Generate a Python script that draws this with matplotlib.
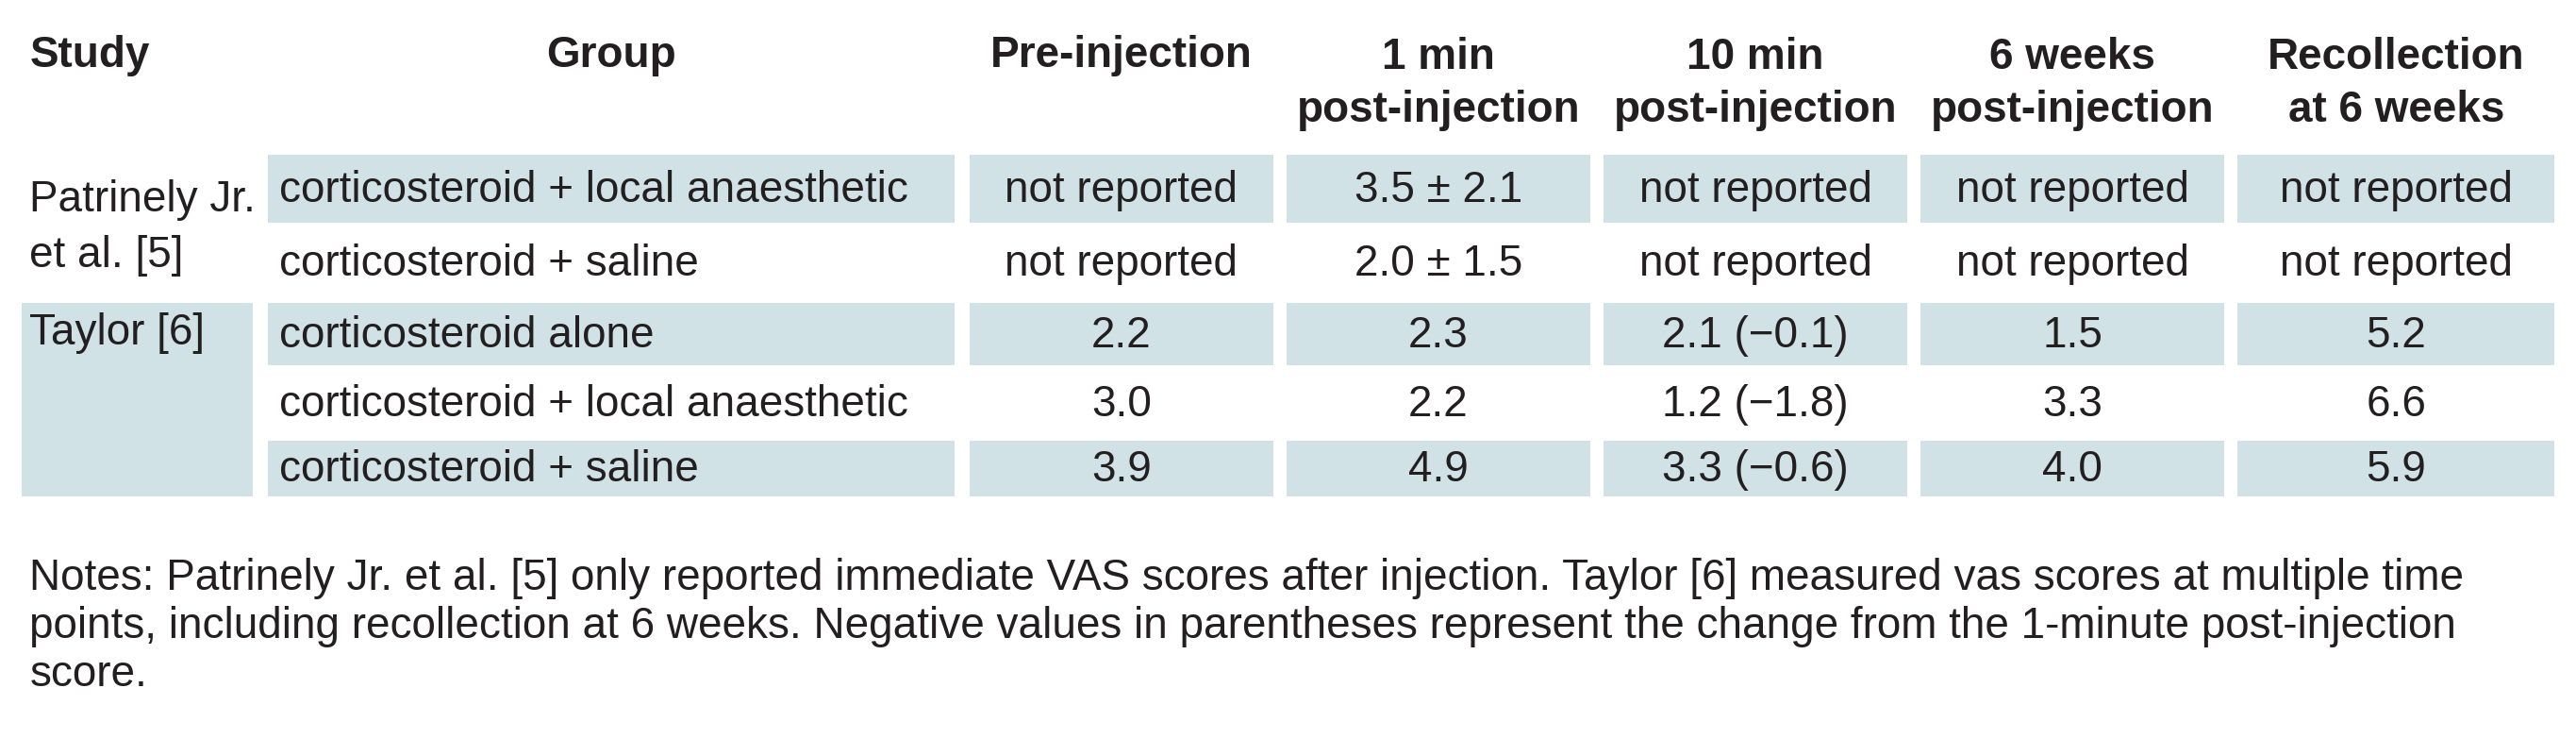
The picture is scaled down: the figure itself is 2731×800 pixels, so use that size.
import matplotlib
matplotlib.use("Agg")
import matplotlib.pyplot as plt
from matplotlib.patches import Rectangle

headers = ["Study", "Group", "Pre-injection", "1 min\npost-injection", "10 min\npost-injection",
           "6 weeks\npost-injection", "Recollection\nat 6 weeks"]
studies = ["Patrinely Jr.\net al. [5]", "Taylor [6]"]
groups = ["corticosteroid + local anaesthetic", "corticosteroid + saline", "corticosteroid alone",
          "corticosteroid + local anaesthetic", "corticosteroid + saline"]
pre = ["not reported", "not reported", "2.2", "3.0", "3.9"]
min1 = ["3.5 ± 2.1", "2.0 ± 1.5", "2.3", "2.2", "4.9"]
min10 = ["not reported", "not reported", "2.1 (−0.1)", "1.2 (−1.8)", "3.3 (−0.6)"]
wk6 = ["not reported", "not reported", "1.5", "3.3", "4.0"]
recol = ["not reported", "not reported", "5.2", "6.6", "5.9"]
notes = ("Notes: Patrinely Jr. et al. [5] only reported immediate VAS scores after injection. Taylor [6] measured vas scores at multiple time\n"
         "points, including recollection at 6 weeks. Negative values in parentheses represent the change from the 1-minute post-injection\n"
         "score.")

FONT = ['Liberation Sans Narrow', 'Liberation Sans', 'DejaVu Sans']
SH = '#d0e2e5'
TXT = '#231f20'
FS = 33

fig = plt.figure(figsize=(27.31, 8), dpi=100)
ax = fig.add_axes([0, 0, 1, 1])
ax.set_xlim(0, 1568); ax.set_ylim(460, 0); ax.axis('off')

cols = [(13, 154), (163, 581), (590, 775), (783, 968), (976, 1161), (1169, 1354), (1362, 1555)]
rows = [(92, 138), (138, 182), (182, 225), (225, 266), (266, 305)]
g = 2.5
shaded = [True, False, True, False, True]

for i, h in enumerate(headers):
    if i == 0:
        ax.text(cols[0][0] + 5, 34, h, ha='left', va='center', fontsize=FS, fontweight='bold', family=FONT, color=TXT)
    else:
        cx = (cols[i][0] + cols[i][1]) / 2
        ax.text(cx, 51 if '\n' in h else 34, h, ha='center', va='center', fontsize=FS, fontweight='bold',
                family=FONT, color=TXT, linespacing=1.35)

ax.add_patch(Rectangle((cols[0][0], rows[2][0] + g), cols[0][1] - cols[0][0], rows[4][1] - rows[2][0] - 2 * g,
                       color=SH, lw=0))
ax.text(cols[0][0] + 5, 203, studies[1], ha='left', va='center', fontsize=FS, family=FONT, color=TXT)
ax.text(cols[0][0] + 5, 139, studies[0], ha='left', va='center', fontsize=FS, family=FONT, color=TXT, linespacing=1.45)

vals = [pre, min1, min10, wk6, recol]
for r, (y0, y1) in enumerate(rows):
    cy = (y0 + y1) / 2 + 1
    if shaded[r]:
        for c in range(1, 7):
            ax.add_patch(Rectangle((cols[c][0], y0 + g), cols[c][1] - cols[c][0], y1 - y0 - 2 * g, color=SH, lw=0))
    ax.text(cols[1][0] + 7, cy, groups[r], ha='left', va='center', fontsize=FS, family=FONT, color=TXT)
    for c in range(5):
        cx = (cols[c + 2][0] + cols[c + 2][1]) / 2
        ax.text(cx, cy, vals[c][r], ha='center', va='center', fontsize=FS, family=FONT, color=TXT)

ax.text(18, 340, notes, ha='left', va='top', fontsize=33, family=FONT, color=TXT, linespacing=1.2)

fig.savefig('out.png', dpi=100, facecolor='white')
